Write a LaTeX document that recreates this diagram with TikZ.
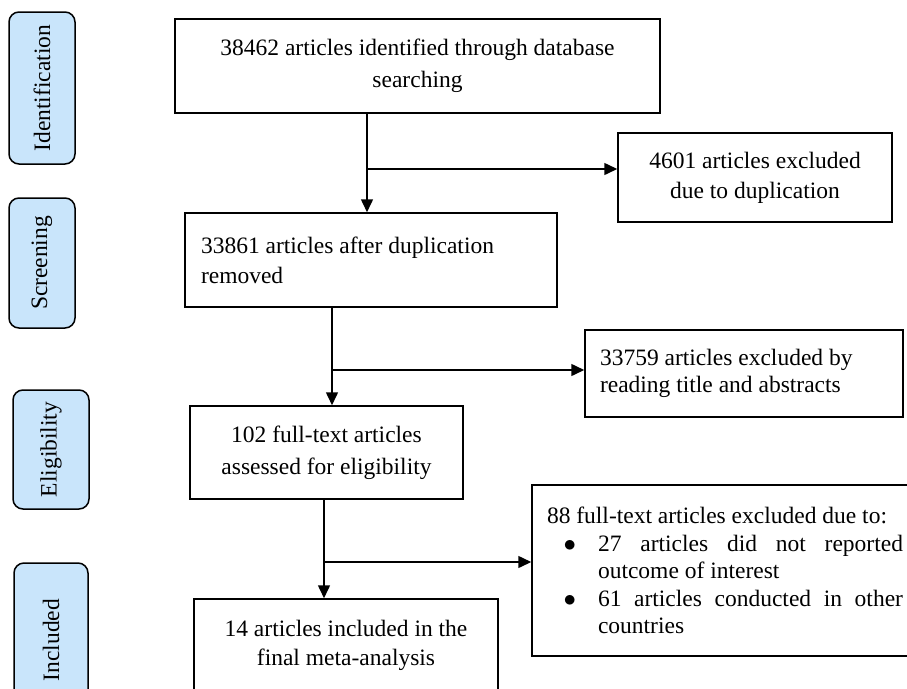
\documentclass[tikz,border=0pt]{standalone}
\usepackage{fontspec}
\setmainfont{Liberation Serif}
\usepackage{tikz}
\usetikzlibrary{arrows.meta}
\definecolor{stagefill}{RGB}{201,229,251}
\hyphenpenalty=10000
\exhyphenpenalty=10000
\tolerance=10000

\begin{document}
\begin{tikzpicture}[
		x=1pt, y=-1pt
		,box/.style={draw, line width=1.5pt, align=center, inner sep=0pt, font=\fontsize{23.5}{30}\selectfont}
		,stage/.style={draw, line width=1.5pt, fill=stagefill, rounded corners=10pt, rotate=90, inner sep=0pt, font=\fontsize{23.5}{28}\selectfont}
		,flow/.style={line width=1.5pt, -{Triangle[length=13pt, width=12pt]}}
	]
		\useasboundingbox (0,0) rectangle (907,688);

		\node[stage, minimum width=152pt, minimum height=66pt] (sId) at (42,88) {Identification};
		\node[stage, minimum width=130pt, minimum height=66pt] (sScr) at (42,263) {Screening};
		\node[stage, minimum width=119pt, minimum height=76pt] (sElig) at (51,449.5) {Eligibility};
		\node[stage, minimum width=154pt, minimum height=74pt] (sIncl) at (51,640) {Included};

		\node[box, minimum width=485pt, minimum height=94pt, font=\fontsize{23.5}{32}\selectfont] (found) at (417.5,66) {38462 articles identified through database\\searching};
		\node[box, minimum width=274pt, minimum height=89pt] (dup) at (755,177.5) {4601 articles excluded\\due to duplication};
		\node[box, text width=340pt, inner xsep=16pt, minimum height=94pt, align=flush left] (screen) at (371,260) {33861 articles after duplication\\removed};
		\node[box, text width=288pt, inner xsep=15pt, minimum height=87pt, align=flush left, font=\fontsize{23.5}{27}\selectfont] (title) at (744,373.5) {33759 articles excluded by\\reading title and abstracts};
		\node[box, minimum width=273pt, minimum height=93pt, font=\fontsize{23.5}{32}\selectfont] (elig) at (326.5,452.5) {102 full-text articles\\assessed for eligibility};
		\node[box, minimum width=304pt, minimum height=93pt, font=\fontsize{23.5}{29}\selectfont] (incl) at (346,645.5) {14 articles included in the\\final meta-analysis};
		\node[box, text width=356pt, inner xsep=15pt, minimum height=171pt, align=justify, font=\fontsize{23.5}{27.5}\selectfont] (full) at (725,570.5) {88 full-text articles excluded due to:
			\begin{list}{$\bullet$}{\leftmargin=51pt \labelsep=22pt \labelwidth=20pt \topsep=0pt \partopsep=0pt \itemsep=0pt \parsep=0pt}
			\item 27 articles did not reported outcome of interest
			\item 61 articles conducted in other countries
			\end{list}};

		\coordinate (j1) at (367,169);
		\coordinate (j2) at (332,370);
		\coordinate (j3) at (324,562);

		\draw[flow] (j1 |- found.south) -- (j1 |- screen.north);
		\draw[flow] (j1) -- (j1 -| dup.west);
		\draw[flow] (j2 |- screen.south) -- (j2 |- elig.north);
		\draw[flow] (j2) -- (j2 -| title.west);
		\draw[flow] (j3 |- elig.south) -- (j3 |- incl.north);
		\draw[flow] (j3) -- (j3 -| full.west);
	\end{tikzpicture}
\end{document}
